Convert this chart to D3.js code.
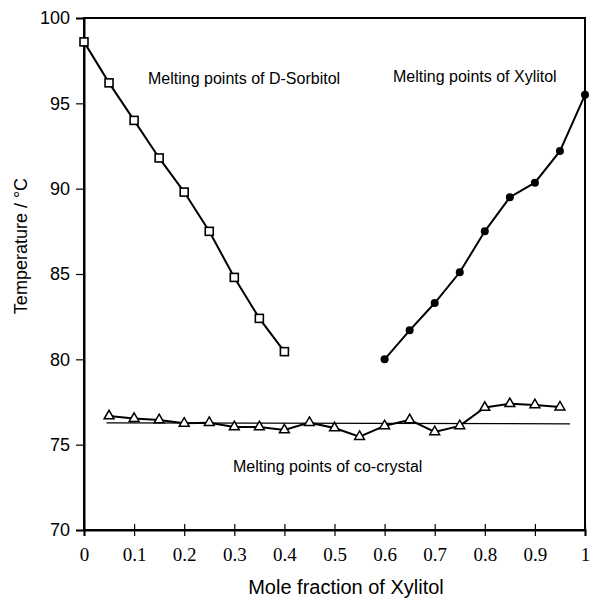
<!DOCTYPE html>
<html>
<head>
<meta charset="utf-8">
<script src="https://cdn.jsdelivr.net/npm/d3@7"></script>
<style>
  html, body { margin: 0; padding: 0; background: #fff; }
  svg { display: block; }
</style>
</head>
<body>
<svg id="chart" width="592" height="598"></svg>
<script>
// Melting-point data for the D-Sorbitol / Xylitol system
const sorbitolX = [0, 0.05, 0.1, 0.15, 0.2, 0.25, 0.3, 0.35, 0.4];
const sorbitolT = [98.6, 96.2, 94.0, 91.8, 89.8, 87.5, 84.8, 82.4, 80.45];

const xylitolX = [0.6, 0.65, 0.7, 0.75, 0.8, 0.85, 0.9, 0.95, 1.0];
const xylitolT = [80.0, 81.7, 83.3, 85.1, 87.5, 89.5, 90.35, 92.2, 95.5];

const cocrystalX = [0.05, 0.1, 0.15, 0.2, 0.25, 0.3, 0.35, 0.4, 0.45, 0.5,
                    0.55, 0.6, 0.65, 0.7, 0.75, 0.8, 0.85, 0.9, 0.95];
const cocrystalT = [76.68, 76.53, 76.45, 76.25, 76.29, 76.04, 76.04, 75.86, 76.29, 75.98,
                    75.47, 76.1, 76.45, 75.75, 76.1, 77.18, 77.4, 77.33, 77.2];

// mean co-crystal melting line
const meanLineX = [0.045, 0.97];
const meanLineT = [76.28, 76.22];

const xTicks = [0, 0.1, 0.2, 0.3, 0.4, 0.5, 0.6, 0.7, 0.8, 0.9, 1];
const yTicks = [70, 75, 80, 85, 90, 95, 100];

const svg = d3.select("#chart");
const margin = { top: 18, right: 7, bottom: 68, left: 84 };
const W = 592, H = 598;
const iw = W - margin.left - margin.right;
const ih = H - margin.top - margin.bottom;

const x = d3.scaleLinear().domain([0, 1]).range([margin.left, margin.left + iw]);
const y = d3.scaleLinear().domain([70, 100]).range([margin.top + ih, margin.top]);

const SANS = "Liberation Sans, Arial, Helvetica, sans-serif";

// frame
svg.append("rect")
  .attr("x", x(0)).attr("y", y(100))
  .attr("width", x(1) - x(0)).attr("height", y(70) - y(100))
  .attr("fill", "none").attr("stroke", "#000").attr("stroke-width", 2);

// y axis
const yAxis = svg.append("g")
  .attr("transform", `translate(${x(0)},0)`)
  .call(d3.axisLeft(y).tickValues(yTicks).tickSize(8).tickPadding(6).tickFormat(d3.format("d")));
yAxis.select(".domain").attr("stroke-width", 2);
yAxis.selectAll(".tick line").attr("stroke-width", 1.2);
yAxis.selectAll("text")
  .attr("font-family", SANS)
  .attr("font-size", 18).attr("fill", "#000");

// x axis (ticks cross the axis line)
const xAxis = svg.append("g")
  .attr("transform", `translate(0,${y(70)})`)
  .call(d3.axisBottom(x).tickValues(xTicks).tickSize(6).tickPadding(12)
        .tickFormat(d => d === 0 || d === 1 ? String(d) : d3.format(".1f")(d)));
xAxis.select(".domain").attr("stroke-width", 2);
xAxis.selectAll(".tick line").attr("y1", -6).attr("y2", 6).attr("stroke-width", 1.2);
xAxis.selectAll("text")
  .attr("font-family", "Liberation Serif, Times New Roman, serif")
  .attr("font-size", 19).attr("fill", "#000");

// axis titles
svg.append("text")
  .attr("x", 346).attr("y", 594)
  .attr("text-anchor", "middle")
  .attr("font-family", SANS)
  .attr("font-size", 20).attr("fill", "#000")
  .text("Mole fraction of Xylitol");

svg.append("text")
  .attr("transform", `translate(27,${246}) rotate(-90)`)
  .attr("text-anchor", "middle")
  .attr("font-family", SANS)
  .attr("font-size", 18).attr("fill", "#000")
  .text("Temperature / °C");

const line = d3.line().x(d => x(d[0])).y(d => y(d[1]));
const zip = (a, b) => a.map((v, i) => [v, b[i]]);

const sorb = zip(sorbitolX, sorbitolT);
const xyl = zip(xylitolX, xylitolT);
const coc = zip(cocrystalX, cocrystalT);

// mean line for the co-crystal
svg.append("path").datum(zip(meanLineX, meanLineT))
  .attr("d", line).attr("fill", "none").attr("stroke", "#000").attr("stroke-width", 1.3);

// series lines
[sorb, xyl, coc].forEach(s => {
  svg.append("path").datum(s)
    .attr("d", line).attr("fill", "none").attr("stroke", "#000").attr("stroke-width", 2);
});

// D-Sorbitol: open squares
svg.selectAll(".sq").data(sorb).enter().append("rect")
  .attr("x", d => x(d[0]) - 4).attr("y", d => y(d[1]) - 4)
  .attr("width", 8).attr("height", 8)
  .attr("fill", "#fff").attr("stroke", "#000").attr("stroke-width", 1.6);

// Xylitol: filled markers
svg.selectAll(".dot").data(xyl).enter().append("circle")
  .attr("cx", d => x(d[0])).attr("cy", d => y(d[1])).attr("r", 4)
  .attr("fill", "#000");

// co-crystal: open triangles
const tri = d3.symbol().type(d3.symbolTriangle).size(42);
svg.selectAll(".tri").data(coc).enter().append("path")
  .attr("d", tri)
  .attr("transform", d => `translate(${x(d[0])},${y(d[1])})`)
  .attr("fill", "#fff").attr("stroke", "#000").attr("stroke-width", 1.5);

// series annotations
const note = (tx, ty, t) => svg.append("text")
  .attr("x", tx).attr("y", ty)
  .attr("font-family", SANS)
  .attr("font-size", 16).attr("fill", "#000").text(t);
note(148, 84, "Melting points of D-Sorbitol");
note(393, 82, "Melting points of Xylitol");
note(233, 472, "Melting points of co-crystal");
</script>
</body>
</html>
